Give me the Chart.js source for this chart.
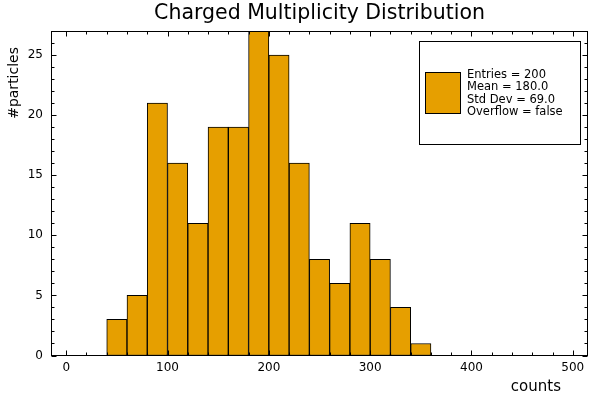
<!DOCTYPE html>
<html>
<head>
<meta charset="utf-8">
<script src="https://cdn.jsdelivr.net/npm/chart.js@4/dist/chart.umd.min.js"></script>
<style>
  body { margin: 0; background: #fff; }
  #wrap { width: 600px; height: 400px; }
</style>
</head>
<body>
<div id="wrap"><canvas id="c" width="600" height="400"></canvas></div>
<script>
// histogram data (bin left edges, width 20)
const binStarts = [40, 60, 80, 100, 120, 140, 160, 180, 200, 220, 240, 260, 280, 300, 320, 340];
const counts = [3, 5, 21, 16, 11, 19, 19, 27, 25, 16, 8, 6, 11, 8, 4, 1];
const binWidth = 20;
const xTicks = [0, 100, 200, 300, 400, 500];
const yTicks = [0, 5, 10, 15, 20, 25];
const legendLines = ['Entries = 200', 'Mean = 180.0', 'Std Dev = 69.0', 'Overflow = false'];

const FONT = '"DejaVu Sans", sans-serif';
const barColor = '#E69F00';

// frame, inward ticks, title, axis labels and stats box
const decorations = {
  id: 'decorations',
  afterDraw(chart) {
    const { ctx, chartArea: a, scales: { x, y } } = chart;
    ctx.save();
    ctx.strokeStyle = '#000';
    ctx.lineWidth = 1;
    const L = Math.round(a.left) + 0.5, R = Math.round(a.right) - 0.5;
    const T = Math.round(a.top) + 0.5, B = Math.round(a.bottom) - 0.5;
    ctx.strokeRect(L, T, R - L, B - T);

    ctx.beginPath();
    for (let v = xTicks[0]; v <= xTicks[xTicks.length - 1]; v += 20) {
      const px = Math.round(x.getPixelForValue(v)) + 0.5;
      const len = xTicks.includes(v) ? 5 : 3;
      ctx.moveTo(px, B); ctx.lineTo(px, B - len);
      ctx.moveTo(px, T); ctx.lineTo(px, T + len);
    }
    for (let v = 0; v <= 27; v += 1) {
      const py = Math.round(y.getPixelForValue(v)) + 0.5;
      const len = yTicks.includes(v) ? 5 : 3;
      ctx.moveTo(L, py); ctx.lineTo(L + len, py);
      ctx.moveTo(R, py); ctx.lineTo(R - len, py);
    }
    ctx.stroke();

    ctx.fillStyle = '#000';
    ctx.font = '20.5px ' + FONT;
    ctx.textAlign = 'center';
    ctx.textBaseline = 'alphabetic';
    ctx.fillText('Charged Multiplicity Distribution', (a.left + a.right) / 2, 18.5);

    ctx.font = '15px ' + FONT;
    ctx.textAlign = 'right';
    ctx.fillText('counts', 561, 391);

    ctx.save();
    ctx.translate(18, 47);
    ctx.rotate(-Math.PI / 2);
    ctx.textAlign = 'right';
    ctx.font = '14px ' + FONT;
    ctx.fillText('#particles', 0, 0);
    ctx.restore();

    // stats box
    ctx.fillStyle = '#fff';
    ctx.fillRect(419.5, 41.5, 161, 103);
    ctx.strokeRect(419.5, 41.5, 161, 103);
    ctx.fillStyle = barColor;
    ctx.fillRect(425.5, 72.5, 35, 41);
    ctx.strokeRect(425.5, 72.5, 35, 41);
    ctx.fillStyle = '#000';
    ctx.font = '11.5px ' + FONT;
    ctx.textAlign = 'left';
    ctx.textBaseline = 'middle';
    legendLines.forEach((t, i) => ctx.fillText(t, 467, 75 + i * 12.4));
    ctx.restore();
  }
};

new Chart(document.getElementById('c'), {
  type: 'bar',
  data: {
    datasets: [{
      data: binStarts.map((s, i) => ({ x: s + binWidth / 2, y: counts[i] })),
      backgroundColor: barColor,
      borderColor: '#000',
      borderWidth: 1,
      borderSkipped: false,
      barPercentage: 1,
      categoryPercentage: 1
    }]
  },
  options: {
    responsive: false,
    animation: false,
    layout: { padding: { top: 31, right: 12, left: 0, bottom: 0 } },
    plugins: { legend: { display: false }, tooltip: { enabled: false } },
    scales: {
      x: {
        type: 'linear',
        min: -15,
        max: 515,
        offset: false,
        grid: { display: false, drawTicks: false },
        border: { display: false },
        ticks: { stepSize: 100, includeBounds: false, padding: 5, maxRotation: 0,
                 color: '#000', font: { family: FONT, size: 12 } },
        afterFit(s) { s.height = 44.5; }
      },
      y: {
        min: 0,
        max: 27,
        grid: { display: false, drawTicks: false },
        border: { display: false },
        ticks: { stepSize: 5, includeBounds: false, padding: 8,
                 color: '#000', font: { family: FONT, size: 12 } },
        afterFit(s) { s.width = 51; }
      }
    }
  },
  plugins: [decorations]
});
</script>
</body>
</html>
